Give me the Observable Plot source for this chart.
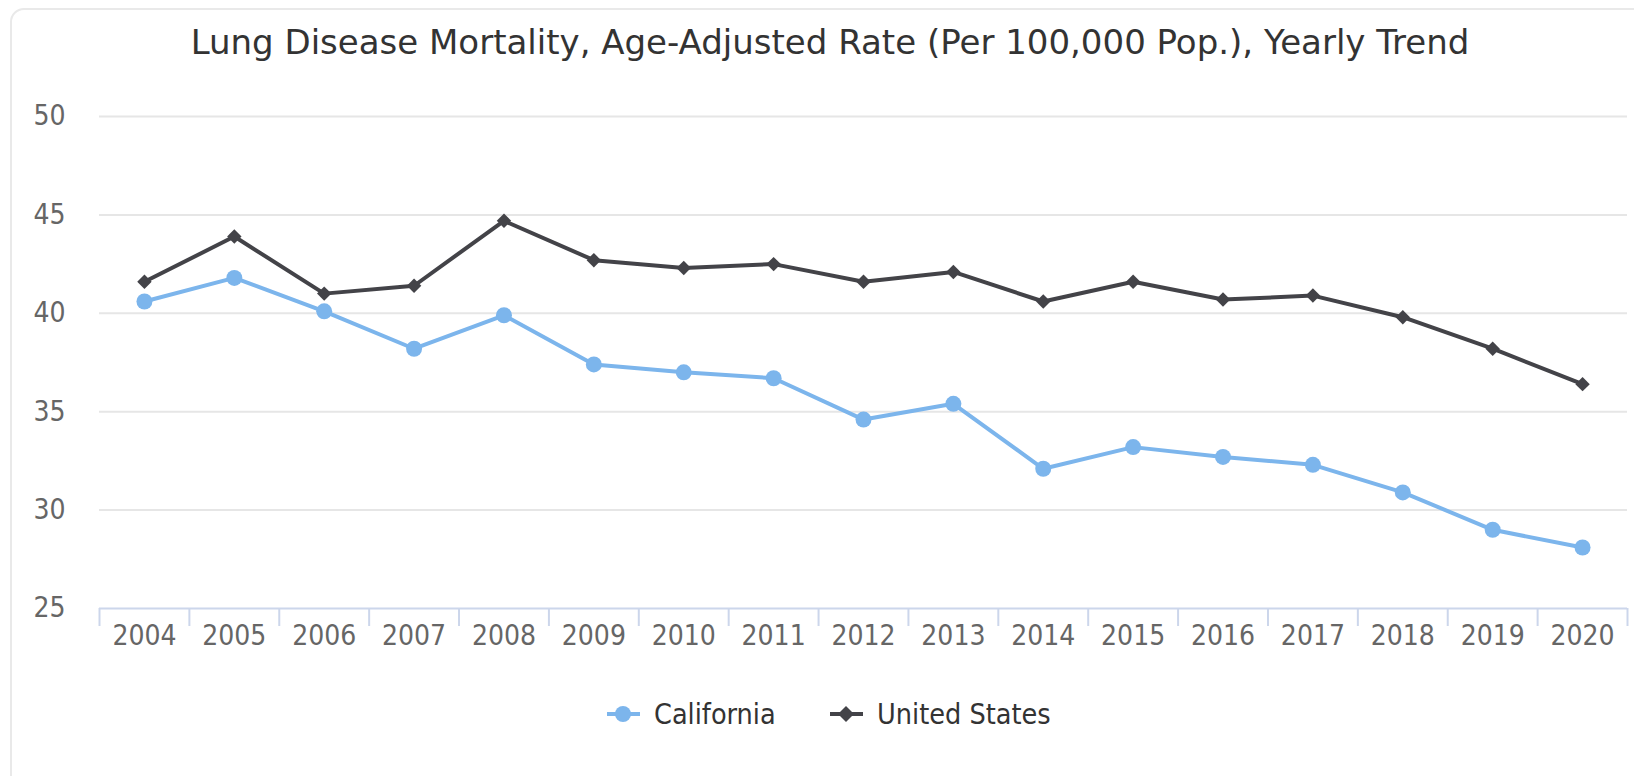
<!DOCTYPE html>
<html><head><meta charset="utf-8">
<script src="https://cdn.jsdelivr.net/npm/d3@7"></script>
<script src="https://cdn.jsdelivr.net/npm/@observablehq/plot@0.6"></script>
<style>
body{margin:0;background:#fff;}
#wrap{position:relative;width:1634px;height:776px;overflow:hidden;font-family:"DejaVu Sans Condensed","DejaVu Sans",sans-serif;background:#fff;}
#frame{position:absolute;left:10px;top:8px;width:1700px;height:900px;border:2px solid #e9e9e9;border-radius:14px;box-sizing:border-box;}
#title{position:absolute;left:0;top:20px;width:1660px;text-align:center;font-family:"DejaVu Sans",sans-serif;font-size:34px;color:#333;line-height:44px;white-space:nowrap;}
#chart{position:absolute;left:0;top:90px;}
.leg{position:absolute;top:698px;height:32px;display:flex;align-items:center;font-size:28.5px;color:#333;white-space:nowrap;}
.leg svg{margin-right:14px;}
</style>
</head><body>
<div id="wrap">
  <div id="frame"></div>
  <div id="title"></div>
  <div id="chart"></div>
  <div class="leg" id="legCA" style="left:607px"></div>
  <div class="leg" id="legUS" style="left:830px"></div>
</div>
<script>
const titleText = "Lung Disease Mortality, Age-Adjusted Rate (Per 100,000 Pop.), Yearly Trend";
const years = [2004, 2005, 2006, 2007, 2008, 2009, 2010, 2011, 2012, 2013, 2014, 2015, 2016, 2017, 2018, 2019, 2020];
const california = [40.6, 41.8, 40.1, 38.2, 39.9, 37.4, 37.0, 36.7, 34.6, 35.4, 32.1, 33.2, 32.7, 32.3, 30.9, 29.0, 28.1];
const unitedStates = [41.6, 43.9, 41.0, 41.4, 44.7, 42.7, 42.3, 42.5, 41.6, 42.1, 40.6, 41.6, 40.7, 40.9, 39.8, 38.2, 36.4];
const yTicks = [25, 30, 35, 40, 45, 50];
const seriesNames = ["California", "United States"];
const colors = ["#7cb5ec", "#434348"];

document.getElementById("title").textContent = titleText;

const caRows = years.map((y, i) => ({year: y, value: california[i]}));
const usRows = years.map((y, i) => ({year: y, value: unitedStates[i]}));
const bounds = years.map(y => y - 0.5).concat([years[years.length - 1] + 0.5]);

const chart = Plot.plot({
  width: 1634,
  height: 580,
  marginLeft: 99,
  marginRight: 7,
  marginTop: 26,
  marginBottom: 62,
  x: {domain: [years[0] - 0.5, years[years.length - 1] + 0.5]},
  y: {domain: [25, 50]},
  style: {fontFamily: '"DejaVu Sans Condensed","DejaVu Sans",sans-serif', fontSize: "28px", color: "#666", background: "transparent"},
  marks: [
    Plot.gridY(yTicks.slice(1), {stroke: "#e6e6e6", strokeOpacity: 1, strokeWidth: 2}),
    Plot.axisY(yTicks, {tickSize: 0, tickPadding: 34, label: null, fill: "#666", fontSize: 28}),
    Plot.axisX(bounds, {tickSize: 18, tickFormat: () => "", stroke: "#ccd6eb", strokeWidth: 2, label: null}),
    Plot.axisX(years, {tickSize: 0, tickPadding: 17, tickFormat: d => String(d), label: null, fill: "#666", fontSize: 28}),
    Plot.ruleY([25], {stroke: "#ccd6eb", strokeWidth: 2}),
    Plot.line(caRows, {x: "year", y: "value", stroke: colors[0], strokeWidth: 4}),
    Plot.dot(caRows, {x: "year", y: "value", fill: colors[0], r: 8, symbol: "circle"}),
    Plot.line(usRows, {x: "year", y: "value", stroke: colors[1], strokeWidth: 4}),
    Plot.dot(usRows, {x: "year", y: "value", fill: colors[1], r: 6.5, symbol: "diamond2"})
  ]
});
document.getElementById("chart").appendChild(chart);

function legendItem(id, name, color, sym) {
  const el = document.getElementById(id);
  const shape = sym === "circle"
    ? `<circle cx="16" cy="16" r="8" fill="${color}"/>`
    : `<path d="M16 8 L24 16 L16 24 L8 16 Z" fill="${color}"/>`;
  el.innerHTML = `<svg width="33" height="32" viewBox="0 0 33 32"><line x1="0" y1="16" x2="33" y2="16" stroke="${color}" stroke-width="4"/>${shape}</svg><span>${name}</span>`;
}
legendItem("legCA", seriesNames[0], colors[0], "circle");
legendItem("legUS", seriesNames[1], colors[1], "diamond");
</script>
</body></html>
